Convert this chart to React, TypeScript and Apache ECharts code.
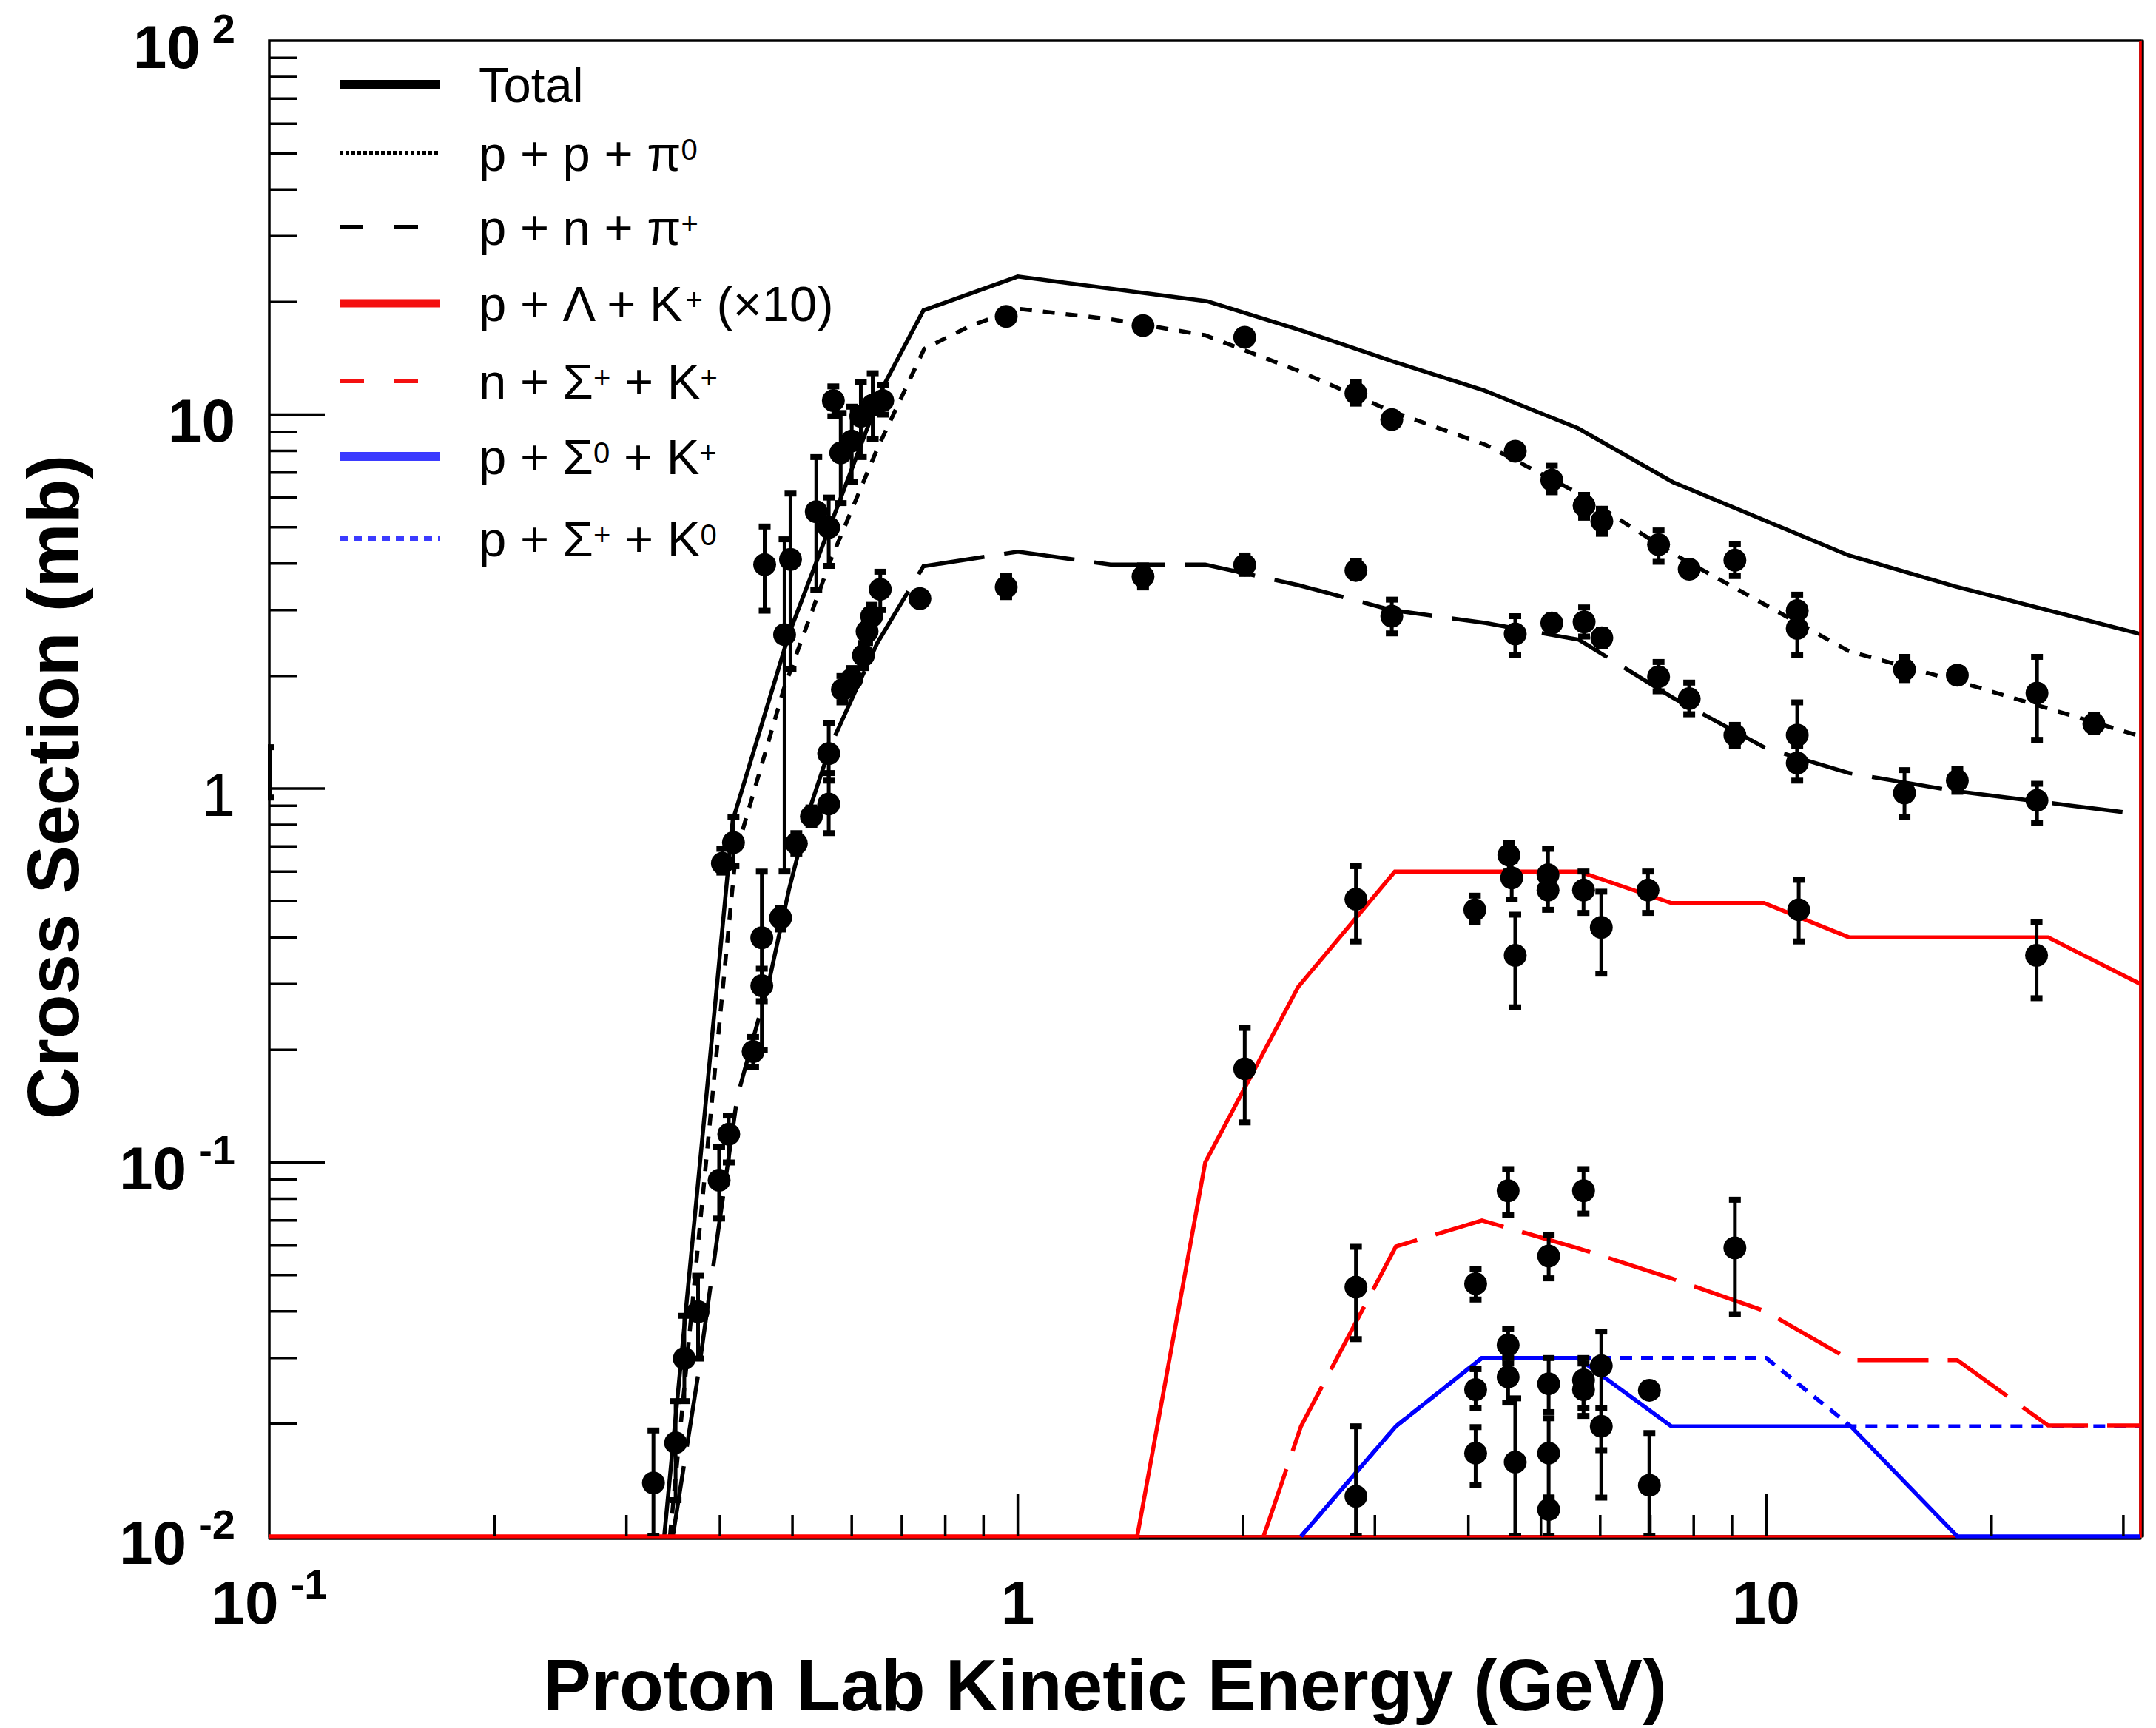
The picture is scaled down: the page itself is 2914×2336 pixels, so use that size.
import React, { useEffect, useRef } from "react";
import * as echarts from "echarts";

const X_MIN = 0.1;
const X_MAX = 31.62;
const Y_MIN = 0.01;
const Y_MAX = 100;

// ---- tick values ----
const xMajorTicks = [1, 10];
const xMinorTicks = [0.2, 0.3, 0.4, 0.5, 0.6, 0.7, 0.8, 0.9, 2, 3, 4, 5, 6, 7, 8, 9, 20, 30];
const yMajorTicks = [0.1, 1, 10];
const yMinorTicks = [
  0.02, 0.03, 0.04, 0.05, 0.06, 0.07, 0.08, 0.09,
  0.2, 0.3, 0.4, 0.5, 0.6, 0.7, 0.8, 0.9,
  2, 3, 4, 5, 6, 7, 8, 9,
  20, 30, 40, 50, 60, 70, 80, 90,
];

// ---- model curves: [E (GeV), sigma (mb)] ----
const curveTotal = [
  [0.337, 0.01], [0.416, 0.82], [0.495, 2.6], [0.661, 11.9], [0.748, 19.0], [1.0, 23.4],
  [1.79, 20.1], [2.39, 16.8], [3.2, 13.8], [4.2, 11.6], [5.6, 9.2], [7.5, 6.6],
  [12.9, 4.2], [17.9, 3.47], [31.62, 2.59],
];
const curvePPpi0 = [
  [0.343, 0.01], [0.42, 0.67], [0.487, 1.85], [0.562, 4.07], [0.649, 8.1], [0.75, 15.0],
  [0.866, 17.3], [1.0, 19.2], [1.33, 18.0], [1.78, 16.3], [2.37, 13.1], [3.16, 10.2],
  [4.22, 8.3], [5.62, 6.15], [7.5, 4.25], [12.9, 2.33], [17.8, 1.95], [31.62, 1.38],
];
const curvePNpip = [
  [0.346, 0.01], [0.374, 0.027], [0.398, 0.066], [0.422, 0.15], [0.466, 0.31], [0.495, 0.54],
  [0.527, 0.88], [0.562, 1.3], [0.649, 2.45], [0.748, 3.93], [1.0, 4.3], [1.33, 3.97],
  [1.78, 3.97], [2.37, 3.5], [3.16, 3.0], [4.22, 2.77], [5.62, 2.5], [7.5, 1.75],
  [10.0, 1.28], [12.9, 1.1], [17.8, 0.986], [31.62, 0.853],
];
const curveLambda = [
  [0.1, 0.01], [1.444, 0.01], [1.78, 0.1], [2.37, 0.295], [3.19, 0.6], [5.62, 0.6],
  [7.47, 0.494], [9.93, 0.494], [12.9, 0.4], [23.8, 0.4], [31.62, 0.3],
];
const curveSigmaPlusN = [
  [2.13, 0.01], [2.39, 0.0197], [3.2, 0.0596], [4.17, 0.07], [5.6, 0.059], [7.47, 0.049],
  [9.97, 0.04], [12.97, 0.0296], [18.0, 0.0296], [23.8, 0.0198], [31.62, 0.0198],
];
const curveSigma0 = [
  [2.39, 0.01], [3.2, 0.0197], [4.17, 0.03], [5.6, 0.03], [7.47, 0.0197], [12.97, 0.0197],
  [18.0, 0.01], [31.62, 0.01],
];
const curveSigmaPlusK0 = [
  [2.39, 0.01], [3.2, 0.0197], [4.17, 0.03], [10.0, 0.03], [12.97, 0.0197], [31.62, 0.0197],
];
const frameRed = [[X_MIN, Y_MIN], [X_MAX, Y_MIN], [X_MAX, Y_MAX]];

// ---- measurements: [E, sigma, lower, upper] ----
const dataPPpi0 = [
  [0.965, 18.3, 17.6, 19.0], [1.47, 17.3, 16.6, 18.0], [2.01, 16.1, 15.5, 16.8],
  [2.83, 11.4, 10.7, 12.2], [3.16, 9.7, 9.3, 10.1], [4.62, 7.98, 7.7, 8.3],
  [5.17, 6.68, 6.2, 7.3], [5.71, 5.71, 5.3, 6.1], [6.03, 5.19, 4.8, 5.6],
  [7.18, 4.49, 4.04, 4.9], [7.89, 3.86, 3.7, 4.0], [9.08, 4.08, 3.7, 4.5],
  [11.0, 2.99, 2.8, 3.3], [11.0, 2.68, 2.28, 2.9], [15.3, 2.08, 1.95, 2.25],
  [18.0, 2.01, 1.95, 2.08], [23.0, 1.8, 1.35, 2.25], [27.4, 1.49, 1.42, 1.57],
];
const dataTotalLow = [
  [0.459, 3.97, 2.99, 5.02], [0.488, 2.58, 0.6, 4.64], [0.497, 4.1, 2.09, 6.15],
  [0.538, 5.5, 3.4, 7.7], [0.559, 4.99, 3.94, 6.0], [0.567, 10.9, 9.9, 11.9],
  [0.58, 7.9, 5.8, 10.1], [0.6, 8.5, 6.6, 10.5], [0.617, 9.9, 7.7, 12.2],
  [0.64, 10.6, 8.6, 12.9], [0.66, 10.9, 10.0, 12.0],
];
const dataPPpi0Low = [
  [0.403, 0.631, 0.596, 0.69], [0.417, 0.717, 0.62, 0.84], [0.455, 0.399, 0.2, 0.6],
  [0.482, 0.451, 0.42, 0.48], [0.506, 0.713, 0.67, 0.76], [0.53, 0.843, 0.8, 0.89],
  [0.559, 0.909, 0.76, 1.1], [0.559, 1.24, 1.05, 1.5],
];
const dataPNpipLow = [
  [0.326, 0.0139, 0.005, 0.0192], [0.349, 0.0178, 0.0125, 0.023], [0.3585, 0.0299, 0.023, 0.0389],
  [0.374, 0.0399, 0.0299, 0.0498], [0.399, 0.0896, 0.0708, 0.11], [0.411, 0.119, 0.1, 0.1335],
  [0.443, 0.198, 0.18, 0.2165], [0.455, 0.297, 0.27, 0.33], [0.583, 1.84, 1.7, 2.0],
  [0.6, 1.96, 1.85, 2.1], [0.622, 2.27, 2.1, 2.45], [0.629, 2.63, 2.45, 2.8],
  [0.638, 2.89, 2.7, 3.1], [0.655, 3.41, 3.0, 3.8], [0.74, 3.22, 3.1, 3.35],
];
const dataPNpip = [
  [0.965, 3.46, 3.25, 3.7], [1.47, 3.69, 3.45, 3.95], [2.01, 3.96, 3.75, 4.2],
  [2.83, 3.83, 3.65, 4.05], [3.16, 2.89, 2.6, 3.2], [4.62, 2.59, 2.28, 2.89],
  [5.17, 2.77, 2.65, 2.9], [5.71, 2.79, 2.55, 3.05], [6.03, 2.53, 2.4, 2.65],
  [7.18, 1.99, 1.82, 2.18], [7.89, 1.74, 1.58, 1.92], [9.08, 1.39, 1.3, 1.48],
  [11.0, 1.39, 1.15, 1.7], [11.0, 1.17, 1.05, 1.3], [15.3, 0.973, 0.84, 1.12],
  [18.0, 1.05, 0.98, 1.13], [23.0, 0.93, 0.81, 1.03],
];
const dataLambda = [
  [2.01, 0.178, 0.128, 0.229], [2.83, 0.506, 0.39, 0.62], [4.08, 0.474, 0.44, 0.517],
  [4.53, 0.664, 0.6, 0.714], [4.57, 0.577, 0.505, 0.64], [4.62, 0.358, 0.26, 0.46],
  [5.11, 0.588, 0.53, 0.69], [5.11, 0.535, 0.474, 0.6], [5.7, 0.535, 0.465, 0.6],
  [6.02, 0.425, 0.32, 0.53], [6.95, 0.535, 0.465, 0.6], [11.05, 0.474, 0.39, 0.57],
  [22.97, 0.358, 0.275, 0.44],
];
const dataSigmaPlus = [
  [2.83, 0.0464, 0.0337, 0.0595], [4.09, 0.0474, 0.043, 0.052], [4.52, 0.084, 0.0724, 0.096],
  [5.12, 0.0562, 0.049, 0.064], [5.7, 0.084, 0.073, 0.096], [9.08, 0.0591, 0.0393, 0.0795],
];
const dataSigma0K0 = [
  [2.83, 0.0128, 0.005, 0.0197], [4.09, 0.0247, 0.022, 0.028], [4.09, 0.0167, 0.0137, 0.0196],
  [4.52, 0.0325, 0.029, 0.0358], [4.52, 0.0267, 0.0228, 0.03], [4.62, 0.0158, 0.005, 0.0234],
  [5.12, 0.0256, 0.0215, 0.03], [5.12, 0.0167, 0.0127, 0.0207], [5.12, 0.0118, 0.005, 0.0127],
  [5.7, 0.0247, 0.021, 0.029], [5.7, 0.0262, 0.022, 0.03], [6.02, 0.0286, 0.0127, 0.0353],
  [6.02, 0.0197, 0.017, 0.022], [6.98, 0.0246, 0.024, 0.025], [6.98, 0.0137, 0.005, 0.0189],
];
const edgeErrorBars = [[0.1, 1.1, 0.946, 1.29]];

const FONT = "'Liberation Sans', Arial, Helvetica, sans-serif";
const RED = "#ff0000";
const BLUE = "#0000ff";
const CURVE_W = 5.5;

function lineSeries(name: string, data: number[][], color: string, dash: any, width = CURVE_W) {
  return {
    name,
    type: "line",
    data,
    showSymbol: false,
    symbol: "none",
    silent: true,
    clip: true,
    lineStyle: { color, width, type: dash, cap: "butt", join: "miter" },
    z: 2,
  };
}

function renderPoint(params: any, api: any) {
  const e = api.value(0);
  const s = api.value(1);
  const lo = Math.max(api.value(2), Y_MIN);
  const hi = Math.min(api.value(3), Y_MAX);
  const c = api.coord([e, s]);
  const t = api.coord([e, hi]);
  const b = api.coord([e, lo]);
  return {
    type: "group",
    children: [
      { type: "line", shape: { x1: c[0], y1: t[1], x2: c[0], y2: b[1] }, style: { stroke: "#000", lineWidth: 5 } },
      { type: "rect", shape: { x: c[0] - 8, y: t[1] - 4, width: 16, height: 8 }, style: { fill: "#000" } },
      { type: "rect", shape: { x: c[0] - 8, y: b[1] - 4, width: 16, height: 8 }, style: { fill: "#000" } },
      { type: "circle", shape: { cx: c[0], cy: c[1], r: 15.5 }, style: { fill: "#000" } },
    ],
  };
}

function renderBarOnly(params: any, api: any) {
  const e = api.value(0);
  const t = api.coord([e, api.value(3)]);
  const b = api.coord([e, api.value(2)]);
  const x = t[0] + 1;
  return {
    type: "group",
    children: [
      { type: "line", shape: { x1: x, y1: t[1], x2: x, y2: b[1] }, style: { stroke: "#000", lineWidth: 6 } },
      { type: "rect", shape: { x: x - 3, y: t[1] - 4, width: 9, height: 8 }, style: { fill: "#000" } },
      { type: "rect", shape: { x: x - 3, y: b[1] - 4, width: 9, height: 8 }, style: { fill: "#000" } },
    ],
  };
}

function pointSeries(name: string, data: number[][]) {
  return {
    name,
    type: "custom",
    data,
    encode: { x: 0, y: 1 },
    renderItem: renderPoint,
    clip: true,
    silent: true,
    z: 4,
  };
}

function xTickSeries(values: number[], len: number) {
  return {
    type: "custom",
    data: values.map((v) => [v, 1]),
    encode: { x: 0, y: 1 },
    clip: false,
    silent: true,
    z: 5,
    renderItem: (params: any, api: any) => {
      const p = api.coord([api.value(0), 1]);
      const yb = params.coordSys.y + params.coordSys.height;
      return { type: "line", shape: { x1: p[0], y1: yb, x2: p[0], y2: yb - len }, style: { stroke: "#000", lineWidth: 3.5 } };
    },
  };
}

function yTickSeries(values: number[], len: number) {
  return {
    type: "custom",
    data: values.map((v) => [1, v]),
    encode: { x: 0, y: 1 },
    clip: false,
    silent: true,
    z: 5,
    renderItem: (params: any, api: any) => {
      const p = api.coord([1, api.value(1)]);
      const xl = params.coordSys.x;
      return { type: "line", shape: { x1: xl, y1: p[1], x2: xl + len, y2: p[1] }, style: { stroke: "#000", lineWidth: 3.5 } };
    },
  };
}

const labelRich: any = {
  m: { fontFamily: FONT, fontWeight: "bold", fontSize: 82, lineHeight: 90, height: 90, color: "#000" },
  t: { fontFamily: FONT, fontWeight: "normal", fontSize: 82, lineHeight: 90, height: 90, color: "#000" },
  s: { fontFamily: FONT, fontWeight: "bold", fontSize: 56, lineHeight: 40, height: 40, verticalAlign: "top", padding: [0, 0, 0, 16], color: "#000" },
};

function powerOf(v: number) {
  const l = Math.log10(v);
  const k = Math.round(l);
  return Math.abs(l - k) > 0.01 ? null : k;
}
function xLabel(v: number) {
  const k = powerOf(v);
  if (k === null) return "";
  if (k === 0) return "{m|1}";
  if (k === 1) return "{m|10}";
  return `{m|10}{s|${k}}`;
}
function yLabel(v: number) {
  const k = powerOf(v);
  if (k === null) return "";
  if (k === 0) return "{t|1}";
  if (k === 1) return "{m|10}";
  return `{m|10}{s|${k}}`;
}

const legendRich: any = {
  a: { fontFamily: FONT, fontSize: 67, lineHeight: 72, height: 72, color: "#000" },
  s: { fontFamily: FONT, fontSize: 40, lineHeight: 62, height: 62, verticalAlign: "top", color: "#000" },
};

const NB = "\u00a0";
const legendEntries = [
  { y: 114, color: "#000", width: 12, dash: null, text: "{a|Total}" },
  { y: 207, color: "#000", width: 6, dash: [5, 3], text: "{a|p + p + π}{s|0}" },
  { y: 307, color: "#000", width: 6, dash: [32, 42], text: "{a|p + n + π}{s|+}" },
  { y: 410, color: "#f41010", width: 11, dash: null, text: `{a|p + Λ + K}{s|+}{a|${NB}(×10)}` },
  { y: 515, color: "#f41010", width: 6, dash: [33, 40], text: `{a|n + Σ}{s|+}{a|${NB}+ K}{s|+}` },
  { y: 617, color: "#3b3bff", width: 12, dash: null, text: `{a|p + Σ}{s|0}{a|${NB}+ K}{s|+}` },
  { y: 728, color: "#3b3bff", width: 6, dash: [11, 8], text: `{a|p + Σ}{s|+}{a|${NB}+ K}{s|0}` },
];

function buildOption() {
  const graphic: any[] = [];
  legendEntries.forEach((e) => {
    graphic.push({
      type: "line",
      z: 100,
      shape: { x1: 459, y1: e.y, x2: 595, y2: e.y },
      style: { stroke: e.color, lineWidth: e.width, lineDash: e.dash || undefined, lineCap: "butt" },
    });
    graphic.push({
      type: "text",
      z: 100,
      x: 647,
      y: e.y,
      style: {
        text: e.text,
        rich: legendRich,
        fill: "#000",
        font: `67px ${FONT}`,
        align: "left",
        verticalAlign: "middle",
        textAlign: "left",
        textVerticalAlign: "middle",
      },
    });
  });
  graphic.push({
    type: "text",
    z: 100,
    x: 1493,
    y: 2278,
    style: {
      text: "Proton Lab Kinetic Energy (GeV)",
      fill: "#000",
      font: `bold 98px ${FONT}`,
      align: "center",
      verticalAlign: "middle",
      textAlign: "center",
      textVerticalAlign: "middle",
    },
  });
  graphic.push({
    type: "text",
    z: 100,
    x: 72,
    y: 1064,
    rotation: Math.PI / 2,
    style: {
      text: "Cross Section (mb)",
      fill: "#000",
      font: `bold 98px ${FONT}`,
      align: "center",
      verticalAlign: "middle",
      textAlign: "center",
      textVerticalAlign: "middle",
    },
  });

  return {
    animation: false,
    backgroundColor: "#ffffff",
    grid: {
      left: 364,
      right: 21,
      top: 55,
      bottom: 259,
      show: true,
      borderColor: "#000",
      borderWidth: 3.5,
      backgroundColor: "transparent",
      containLabel: false,
    },
    xAxis: {
      type: "log",
      logBase: 10,
      min: X_MIN,
      max: X_MAX,
      offset: 3,
      axisLine: { show: true, onZero: false, lineStyle: { color: "#000", width: 3.5 } },
      axisTick: { show: false },
      splitLine: { show: false },
      axisLabel: { margin: 41, formatter: xLabel, rich: labelRich, showMinLabel: true, showMaxLabel: false, hideOverlap: false },
    },
    yAxis: [
      {
        type: "log",
        logBase: 10,
        min: Y_MIN,
        max: Y_MAX,
        position: "left",
        axisLine: { show: false },
        axisTick: { show: false },
        splitLine: { show: false },
        axisLabel: {
          margin: 46,
          padding: [16, 0, 0, 0],
          formatter: yLabel,
          rich: labelRich,
          showMinLabel: true,
          showMaxLabel: true,
          hideOverlap: false,
        },
      },
      {
        type: "log",
        logBase: 10,
        min: Y_MIN,
        max: Y_MAX,
        position: "right",
        offset: 3,
        axisLine: { show: true, lineStyle: { color: "#000", width: 3.5 } },
        axisTick: { show: false },
        axisLabel: { show: false },
        splitLine: { show: false },
      },
    ],
    graphic,
    series: [
      lineSeries("Total", curveTotal, "#000", "solid"),
      lineSeries("p + p + π0", curvePPpi0, "#000", [16, 15]),
      lineSeries("p + n + π+", curvePNpip, "#000", [96, 27]),
      lineSeries("frame", frameRed, RED, "solid", 3.5),
      lineSeries("p + Λ + K+ (×10)", curveLambda, RED, "solid"),
      lineSeries("p + Σ+ + K0", curveSigmaPlusK0, BLUE, [16, 12]),
      lineSeries("p + Σ0 + K+", curveSigma0, BLUE, "solid"),
      lineSeries("n + Σ+ + K+", curveSigmaPlusN, RED, [96, 26]),
      pointSeries("pp pi0 data", dataPPpi0),
      pointSeries("total data low", dataTotalLow),
      pointSeries("pp pi0 data low", dataPPpi0Low),
      pointSeries("pn pi+ data low", dataPNpipLow),
      pointSeries("pn pi+ data", dataPNpip),
      pointSeries("Lambda data", dataLambda),
      pointSeries("Sigma+ data", dataSigmaPlus),
      pointSeries("Sigma0/K0 data", dataSigma0K0),
      {
        type: "custom",
        data: edgeErrorBars,
        encode: { x: 0, y: 1 },
        renderItem: renderBarOnly,
        clip: false,
        silent: true,
        z: 4,
      },
      xTickSeries(xMajorTicks, 58),
      xTickSeries(xMinorTicks, 29),
      yTickSeries(yMajorTicks, 75),
      yTickSeries(yMinorTicks, 37),
    ],
  };
}

export default function App() {
  const ref = useRef<HTMLDivElement>(null);
  useEffect(() => {
    document.body.style.margin = "0";
    document.body.style.overflow = "hidden";
    const chart = echarts.init(ref.current as HTMLDivElement, null, { renderer: "svg" });
    chart.setOption(buildOption() as any);
    return () => {
      chart.dispose();
    };
  }, []);
  return <div ref={ref} style={{ width: 2914, height: 2336 }} />;
}
